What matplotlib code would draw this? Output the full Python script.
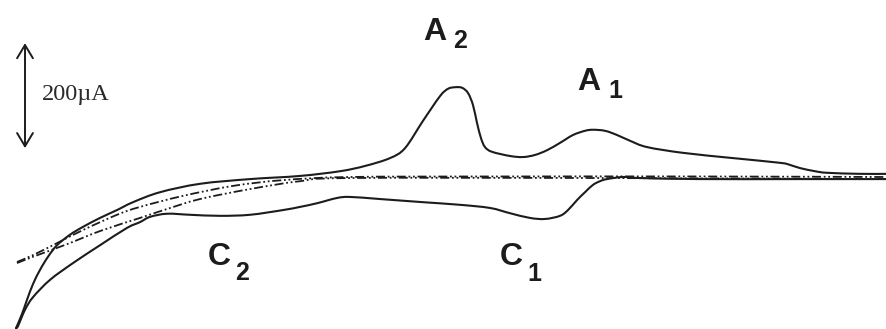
import matplotlib
matplotlib.use("Agg")
import numpy as np
import matplotlib.pyplot as plt
from matplotlib.path import Path
from matplotlib.patches import PathPatch

# Cyclic voltammogram: potential E (mV) and current I (uA)
# Forward (anodic) sweep of the sample
E_fwd = [-1368, -1356, -1346, -1334, -1320, -1304, -1286, -1260, -1234, -1200,
         -1166, -1134, -1080, -1000, -900, -800, -720, -670, -620, -590,
         -554, -520, -504, -490, -476, -464, -454, -446, -438, -430,
         -416, -380, -354, -330, -306, -280, -254, -230, -214, -190,
         -166, -140, -106, -34, 66, 160, 180, 200, 230, 254, 320, 374]
I_fwd = [-288, -261, -234, -204, -177, -152, -130, -110, -95, -78,
         -63, -48, -29, -13, -4, 2, 11, 21, 36, 55,
         107, 154, 168, 171, 170, 160, 137, 103, 74, 57,
         48, 40, 38, 42, 51, 65, 80, 88, 90, 88,
         80, 69, 57, 46, 36, 27, 23, 17, 11, 8, 6, 6]

# Reverse (cathodic) sweep of the sample
E_rev = [374, 200, 0, -120, -154, -186, -200, -214, -230, -246,
         -264, -280, -310, -340, -380, -420, -480, -554, -640, -700,
         -726, -766, -800, -834, -900, -960, -1020, -1066, -1100, -1120,
         -1146, -1200, -1254, -1300, -1334, -1350, -1364, -1368]
I_rev = [-4, -4, -4, -2, 0, -4, -8, -15, -29, -44,
         -63, -74, -80, -78, -69, -59, -53, -48, -42, -38,
         -40, -50, -57, -63, -72, -74, -72, -70, -76, -86,
         -97, -130, -164, -196, -229, -253, -284, -288]

# Blank electrolyte, both sweep directions
E_blank_a = [-1366, -1330, -1286, -1234, -1166, -1120, -1034, -934, -834, -700, -400, 0, 374]
I_blank_a = [-162, -147, -126, -101, -72, -57, -36, -17, -6, 0, 1, 1, 0]
E_blank_b = [-1366, -1334, -1266, -1200, -1120, -1066, -1000, -900, -800, -700, -200, 374]
I_blank_b = [-164, -152, -128, -103, -78, -61, -42, -23, -8, -2, -2, -4]

# Current scale bar
scale_E = -1350
scale_lo, scale_hi = 55, 255
scale_label = "200\u00b5A"

# Peak labels: (letter, index, x, y_letter, y_index, x_index) in axes fractions
peak_labels = [
    ("A", "2", 0.4769, 0.8784, 0.8541, 0.5107),
    ("A", "1", 0.6505, 0.7264, 0.7021, 0.6855),
    ("C", "2", 0.2345, 0.1945, 0.1489, 0.2649),
    ("C", "1", 0.5637, 0.1945, 0.1459, 0.5941),
]

ink = "#1c1c1c"


def smooth_path(xs, ys):
    """Cubic Bezier path passing through every (x, y) point (Catmull-Rom tangents)."""
    p = np.column_stack([xs, ys]).astype(float)
    n = len(p)
    verts = [p[0]]
    codes = [Path.MOVETO]
    for i in range(n - 1):
        p0 = p[i - 1] if i > 0 else p[i]
        p3 = p[i + 2] if i + 2 < n else p[i + 1]
        c1 = p[i] + (p[i + 1] - p0) / 6.0
        c2 = p[i + 1] - (p3 - p[i]) / 6.0
        verts += [c1, c2, p[i + 1]]
        codes += [Path.CURVE4] * 3
    return Path(verts, codes)


fig = plt.figure(figsize=(8.87, 3.29), dpi=100)
ax = fig.add_axes([0, 0, 1, 1])
ax.set_xlim(-1400, 374)
ax.set_ylim(-289.6, 337.2)
ax.axis("off")

for E_s, I_s in ((E_fwd, I_fwd), (E_rev, I_rev)):
    ax.add_patch(PathPatch(smooth_path(E_s, I_s), fill=False, edgecolor=ink,
                           lw=1.5, capstyle="round", joinstyle="round"))
for E_b, I_b in ((E_blank_a, I_blank_a), (E_blank_b, I_blank_b)):
    ax.add_patch(PathPatch(smooth_path(E_b, I_b), fill=False, edgecolor=ink,
                           lw=1.3, linestyle=(0, (5, 1.5, 1, 1.5, 1, 1.5))))

ax.annotate("", xy=(scale_E, scale_hi), xytext=(scale_E, scale_lo),
            arrowprops=dict(arrowstyle="<->,head_length=0.5,head_width=0.3",
                            lw=1.4, color=ink, mutation_scale=19,
                            shrinkA=0, shrinkB=0))
ax.text(0.0474, 0.696, scale_label, transform=ax.transAxes, ha="left", va="baseline",
        fontsize=17.5, family="Liberation Serif", color="#2a2a2a")

for letter, idx, x, y_l, y_i, x_i in peak_labels:
    ax.text(x, y_l, letter, transform=ax.transAxes, ha="left", va="baseline",
            fontsize=23, fontweight="bold", family="Liberation Sans", color=ink)
    ax.text(x_i, y_i, idx, transform=ax.transAxes, ha="left", va="baseline",
            fontsize=18, fontweight="bold", family="Liberation Sans", color=ink)

fig.savefig("out.png", dpi=100, facecolor="white")
